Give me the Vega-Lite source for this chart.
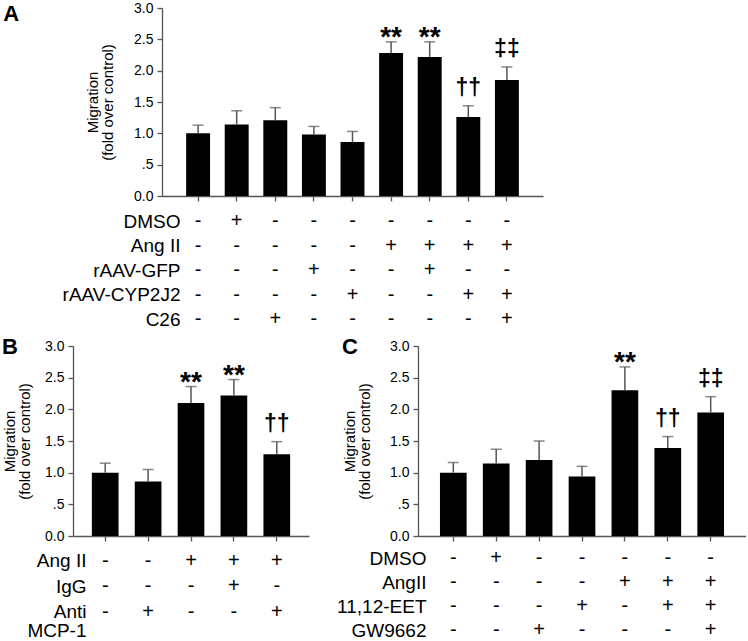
{
"$schema": "https://vega.github.io/schema/vega-lite/v6.json",
"background": "white",
"padding": {"left": 2, "top": 1, "right": 0, "bottom": 0},
"config": {
 "font": "Liberation Sans",
 "view": {"stroke": null},
 "axis": {"domainColor": "#555", "tickColor": "#555", "domainWidth": 1.3, "tickWidth": 1.3, "labelColor": "#000", "titleColor": "#000", "grid": false, "titleFontWeight": "normal", "labelFont": "Liberation Sans", "titleFont": "Liberation Sans"},
 "title": {"fontSize": 22, "fontWeight": "bold", "anchor": "start", "frame": "bounds", "baseline": "alphabetic", "color": "#000", "font": "Liberation Sans"},
 "text": {"color": "#000"}
},
"datasets": {
 "barsA": [
  {"c": 1, "v": 1.00, "u": 1.13, "s": ""},
  {"c": 2, "v": 1.14, "u": 1.36, "s": ""},
  {"c": 3, "v": 1.21, "u": 1.41, "s": ""},
  {"c": 4, "v": 0.98, "u": 1.11, "s": ""},
  {"c": 5, "v": 0.86, "u": 1.03, "s": ""},
  {"c": 6, "v": 2.28, "u": 2.46, "s": "**"},
  {"c": 7, "v": 2.22, "u": 2.46, "s": "**"},
  {"c": 8, "v": 1.26, "u": 1.44, "s": "††"},
  {"c": 9, "v": 1.85, "u": 2.06, "s": "‡‡"}
 ],
 "barsB": [
  {"c": 1, "v": 1.00, "u": 1.15, "s": ""},
  {"c": 2, "v": 0.86, "u": 1.05, "s": ""},
  {"c": 3, "v": 2.10, "u": 2.36, "s": "**"},
  {"c": 4, "v": 2.22, "u": 2.47, "s": "**"},
  {"c": 5, "v": 1.29, "u": 1.49, "s": "††"}
 ],
 "barsC": [
  {"c": 1, "v": 1.00, "u": 1.16, "s": ""},
  {"c": 2, "v": 1.145, "u": 1.37, "s": ""},
  {"c": 3, "v": 1.20, "u": 1.50, "s": ""},
  {"c": 4, "v": 0.94, "u": 1.10, "s": ""},
  {"c": 5, "v": 2.30, "u": 2.67, "s": "**"},
  {"c": 6, "v": 1.39, "u": 1.57, "s": "††"},
  {"c": 7, "v": 1.95, "u": 2.20, "s": "‡‡"}
 ],
 "tabA": [
  {"r": "DMSO", "c": 1, "s": "-"}, {"r": "DMSO", "c": 2, "s": "+"}, {"r": "DMSO", "c": 3, "s": "-"}, {"r": "DMSO", "c": 4, "s": "-"}, {"r": "DMSO", "c": 5, "s": "-"}, {"r": "DMSO", "c": 6, "s": "-"}, {"r": "DMSO", "c": 7, "s": "-"}, {"r": "DMSO", "c": 8, "s": "-"}, {"r": "DMSO", "c": 9, "s": "-"},
  {"r": "Ang II", "c": 1, "s": "-"}, {"r": "Ang II", "c": 2, "s": "-"}, {"r": "Ang II", "c": 3, "s": "-"}, {"r": "Ang II", "c": 4, "s": "-"}, {"r": "Ang II", "c": 5, "s": "-"}, {"r": "Ang II", "c": 6, "s": "+"}, {"r": "Ang II", "c": 7, "s": "+"}, {"r": "Ang II", "c": 8, "s": "+"}, {"r": "Ang II", "c": 9, "s": "+"},
  {"r": "rAAV-GFP", "c": 1, "s": "-"}, {"r": "rAAV-GFP", "c": 2, "s": "-"}, {"r": "rAAV-GFP", "c": 3, "s": "-"}, {"r": "rAAV-GFP", "c": 4, "s": "+"}, {"r": "rAAV-GFP", "c": 5, "s": "-"}, {"r": "rAAV-GFP", "c": 6, "s": "-"}, {"r": "rAAV-GFP", "c": 7, "s": "+"}, {"r": "rAAV-GFP", "c": 8, "s": "-"}, {"r": "rAAV-GFP", "c": 9, "s": "-"},
  {"r": "rAAV-CYP2J2", "c": 1, "s": "-"}, {"r": "rAAV-CYP2J2", "c": 2, "s": "-"}, {"r": "rAAV-CYP2J2", "c": 3, "s": "-"}, {"r": "rAAV-CYP2J2", "c": 4, "s": "-"}, {"r": "rAAV-CYP2J2", "c": 5, "s": "+"}, {"r": "rAAV-CYP2J2", "c": 6, "s": "-"}, {"r": "rAAV-CYP2J2", "c": 7, "s": "-"}, {"r": "rAAV-CYP2J2", "c": 8, "s": "+"}, {"r": "rAAV-CYP2J2", "c": 9, "s": "+"},
  {"r": "C26", "c": 1, "s": "-"}, {"r": "C26", "c": 2, "s": "-"}, {"r": "C26", "c": 3, "s": "+"}, {"r": "C26", "c": 4, "s": "-"}, {"r": "C26", "c": 5, "s": "-"}, {"r": "C26", "c": 6, "s": "-"}, {"r": "C26", "c": 7, "s": "-"}, {"r": "C26", "c": 8, "s": "-"}, {"r": "C26", "c": 9, "s": "+"}
 ],
 "tabB": [
  {"r": "Ang II", "c": 1, "s": "-"}, {"r": "Ang II", "c": 2, "s": "-"}, {"r": "Ang II", "c": 3, "s": "+"}, {"r": "Ang II", "c": 4, "s": "+"}, {"r": "Ang II", "c": 5, "s": "+"},
  {"r": "IgG", "c": 1, "s": "-"}, {"r": "IgG", "c": 2, "s": "-"}, {"r": "IgG", "c": 3, "s": "-"}, {"r": "IgG", "c": 4, "s": "+"}, {"r": "IgG", "c": 5, "s": "-"},
  {"r": "Anti MCP-1", "c": 1, "s": "-"}, {"r": "Anti MCP-1", "c": 2, "s": "+"}, {"r": "Anti MCP-1", "c": 3, "s": "-"}, {"r": "Anti MCP-1", "c": 4, "s": "-"}, {"r": "Anti MCP-1", "c": 5, "s": "+"}
 ],
 "tabC": [
  {"r": "DMSO", "c": 1, "s": "-"}, {"r": "DMSO", "c": 2, "s": "+"}, {"r": "DMSO", "c": 3, "s": "-"}, {"r": "DMSO", "c": 4, "s": "-"}, {"r": "DMSO", "c": 5, "s": "-"}, {"r": "DMSO", "c": 6, "s": "-"}, {"r": "DMSO", "c": 7, "s": "-"},
  {"r": "AngII", "c": 1, "s": "-"}, {"r": "AngII", "c": 2, "s": "-"}, {"r": "AngII", "c": 3, "s": "-"}, {"r": "AngII", "c": 4, "s": "-"}, {"r": "AngII", "c": 5, "s": "+"}, {"r": "AngII", "c": 6, "s": "+"}, {"r": "AngII", "c": 7, "s": "+"},
  {"r": "11,12-EET", "c": 1, "s": "-"}, {"r": "11,12-EET", "c": 2, "s": "-"}, {"r": "11,12-EET", "c": 3, "s": "-"}, {"r": "11,12-EET", "c": 4, "s": "+"}, {"r": "11,12-EET", "c": 5, "s": "-"}, {"r": "11,12-EET", "c": 6, "s": "+"}, {"r": "11,12-EET", "c": 7, "s": "+"},
  {"r": "GW9662", "c": 1, "s": "-"}, {"r": "GW9662", "c": 2, "s": "-"}, {"r": "GW9662", "c": 3, "s": "+"}, {"r": "GW9662", "c": 4, "s": "-"}, {"r": "GW9662", "c": 5, "s": "-"}, {"r": "GW9662", "c": 6, "s": "-"}, {"r": "GW9662", "c": 7, "s": "+"}
 ]
},
"spacing": 4,
"vconcat": [
 {"spacing": 6, "vconcat": [
  {"width": 470, "height": 188,
   "title": {"text": "A", "orient": "left", "anchor": "end", "angle": 0, "align": "right", "baseline": "top", "frame": "group", "offset": 38, "dy": -4},
   "data": {"name": "barsA"},
   "encoding": {
    "x": {"field": "c", "type": "ordinal", "sort": null, "scale": {"type": "band", "range": [89, 470], "paddingInner": 0.38, "paddingOuter": 0.625}, "axis": {"title": null, "labels": false, "tickSize": 5}},
    "y": {"field": "v", "type": "quantitative", "scale": {"domain": [0, 3], "nice": false}, "axis": {"offset": -89, "values": [0, 0.5, 1, 1.5, 2, 2.5, 3], "labelExpr": "datum.value == 0.5 ? '.5' : format(datum.value, '.1f')", "title": ["Migration", "(fold over control)"], "titleFontSize": 15, "titleLineHeight": 15.5, "titlePadding": 18, "labelFontSize": 14, "tickSize": 5, "labelPadding": 4}}
   },
   "layer": [
    {"mark": {"type": "bar", "color": "#000"}},
    {"mark": {"type": "rule", "color": "#555", "strokeWidth": 1.5}, "encoding": {"y2": {"field": "u"}}},
    {"mark": {"type": "tick", "color": "#555", "thickness": 1.5, "size": 11}, "encoding": {"y": {"field": "u", "type": "quantitative"}}},
    {"transform": [{"filter": "datum.s == '**'"}], "mark": {"type": "text", "color": "#000", "fontSize": 28, "fontWeight": "bold", "baseline": "alphabetic", "dy": 4}, "encoding": {"y": {"field": "u", "type": "quantitative"}, "text": {"field": "s"}}},
    {"transform": [{"filter": "datum.s == '††' || datum.s == '‡‡'"}], "mark": {"type": "text", "color": "#000", "fontSize": 23, "fontWeight": "bold", "baseline": "alphabetic", "dy": -11}, "encoding": {"y": {"field": "u", "type": "quantitative"}, "text": {"field": "s"}}}
   ]
  },
  {"width": 470, "height": 122.5,
   "data": {"name": "tabA"},
   "mark": {"type": "text", "fontSize": 20, "baseline": "middle"},
   "encoding": {
    "x": {"field": "c", "type": "ordinal", "sort": null, "scale": {"type": "band", "range": [89, 470], "paddingInner": 0.38, "paddingOuter": 0.625}, "axis": null},
    "y": {"field": "r", "type": "nominal", "sort": null, "axis": {"title": null, "domain": false, "ticks": false, "labelFontSize": 19, "labelPadding": 0, "offset": -107}},
    "text": {"field": "s"},
    "color": {"value": "#000"}
   }
  }
 ]},
 {"spacing": 27, "hconcat": [
  {"spacing": 5, "vconcat": [
   {"width": 236, "height": 190,
    "title": {"text": "B", "offset": -20},
    "data": {"name": "barsB"},
    "encoding": {
     "x": {"field": "c", "type": "ordinal", "sort": null, "scale": {"type": "band", "paddingInner": 0.378, "paddingOuter": 0.44}, "axis": {"title": null, "labels": false, "tickSize": 5}},
     "y": {"field": "v", "type": "quantitative", "scale": {"domain": [0, 3], "nice": false}, "axis": {"values": [0, 0.5, 1, 1.5, 2, 2.5, 3], "labelExpr": "datum.value == 0.5 ? '.5' : format(datum.value, '.1f')", "title": ["Migration", "(fold over control)"], "titleFontSize": 15, "titleLineHeight": 15.5, "titlePadding": 12, "labelFontSize": 14, "tickSize": 5, "labelPadding": 4}}
    },
    "layer": [
     {"mark": {"type": "bar", "color": "#000"}},
     {"mark": {"type": "rule", "color": "#555", "strokeWidth": 1.5}, "encoding": {"y2": {"field": "u"}}},
     {"mark": {"type": "tick", "color": "#555", "thickness": 1.5, "size": 11}, "encoding": {"y": {"field": "u", "type": "quantitative"}}},
     {"transform": [{"filter": "datum.s == '**'"}], "mark": {"type": "text", "color": "#000", "fontSize": 28, "fontWeight": "bold", "baseline": "alphabetic", "dy": 4}, "encoding": {"y": {"field": "u", "type": "quantitative"}, "text": {"field": "s"}}},
     {"transform": [{"filter": "datum.s == '††' || datum.s == '‡‡'"}], "mark": {"type": "text", "color": "#000", "fontSize": 23, "fontWeight": "bold", "baseline": "alphabetic", "dy": -11}, "encoding": {"y": {"field": "u", "type": "quantitative"}, "text": {"field": "s"}}}
    ]
   },
   {"width": 236, "height": 76.5,
    "data": {"name": "tabB"},
    "mark": {"type": "text", "fontSize": 20, "baseline": "middle"},
    "encoding": {
     "x": {"field": "c", "type": "ordinal", "sort": null, "scale": {"type": "band", "paddingInner": 0.378, "paddingOuter": 0.44}, "axis": null},
     "y": {"field": "r", "type": "nominal", "sort": null, "axis": {"title": null, "domain": false, "ticks": false, "labelFontSize": 19, "labelPadding": 0, "offset": -13, "labelLineHeight": 19, "labelExpr": "datum.value == 'Anti MCP-1' ? ['Anti', 'MCP-1'] : datum.value"}},
     "text": {"field": "s"},
     "color": {"value": "#000"}
    }
   }
  ]},
  {"spacing": 3, "vconcat": [
   {"width": 328, "height": 190,
    "title": {"text": "C", "offset": -20},
    "data": {"name": "barsC"},
    "encoding": {
     "x": {"field": "c", "type": "ordinal", "sort": null, "scale": {"type": "band", "paddingInner": 0.378, "paddingOuter": 0.512}, "axis": {"title": null, "labels": false, "tickSize": 5}},
     "y": {"field": "v", "type": "quantitative", "scale": {"domain": [0, 3], "nice": false}, "axis": {"values": [0, 0.5, 1, 1.5, 2, 2.5, 3], "labelExpr": "datum.value == 0.5 ? '.5' : format(datum.value, '.1f')", "title": ["Migration", "(fold over control)"], "titleFontSize": 15, "titleLineHeight": 15.5, "titlePadding": 17, "labelFontSize": 14, "tickSize": 5, "labelPadding": 4}}
    },
    "layer": [
     {"mark": {"type": "bar", "color": "#000"}},
     {"mark": {"type": "rule", "color": "#555", "strokeWidth": 1.5}, "encoding": {"y2": {"field": "u"}}},
     {"mark": {"type": "tick", "color": "#555", "thickness": 1.5, "size": 11}, "encoding": {"y": {"field": "u", "type": "quantitative"}}},
     {"transform": [{"filter": "datum.s == '**'"}], "mark": {"type": "text", "color": "#000", "fontSize": 28, "fontWeight": "bold", "baseline": "alphabetic", "dy": 4}, "encoding": {"y": {"field": "u", "type": "quantitative"}, "text": {"field": "s"}}},
     {"transform": [{"filter": "datum.s == '††' || datum.s == '‡‡'"}], "mark": {"type": "text", "color": "#000", "fontSize": 23, "fontWeight": "bold", "baseline": "alphabetic", "dy": -11}, "encoding": {"y": {"field": "u", "type": "quantitative"}, "text": {"field": "s"}}}
    ]
   },
   {"width": 328, "height": 96,
    "data": {"name": "tabC"},
    "mark": {"type": "text", "fontSize": 20, "baseline": "middle"},
    "encoding": {
     "x": {"field": "c", "type": "ordinal", "sort": null, "scale": {"type": "band", "paddingInner": 0.378, "paddingOuter": 0.512}, "axis": null},
     "y": {"field": "r", "type": "nominal", "sort": null, "axis": {"title": null, "domain": false, "ticks": false, "labelFontSize": 19, "labelPadding": 0, "offset": -8}},
     "text": {"field": "s"},
     "color": {"value": "#000"}
    }
   }
  ]}
 ]}
]
}
